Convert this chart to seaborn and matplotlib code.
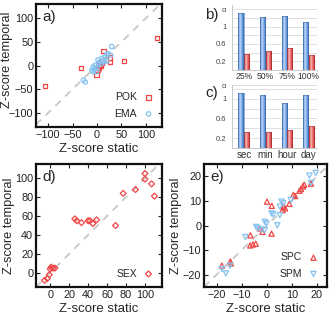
import numpy as np
import pandas as pd
import matplotlib
matplotlib.use("Agg")
import matplotlib.pyplot as plt
import seaborn as sns
from matplotlib.colors import to_rgb

sns.set_theme(style="ticks")
plt.rcParams['font.family'] = ['Liberation Sans', 'DejaVu Sans']

# ---------------- data ----------------
pok_static = [-107, -33, 123, 55, 13, 26, 26, -1, 3, 5, 9, 1, -2, 7, 18]
pok_temporal = [-43, -5, 58, 10, 31, 17, 8, -19, -4, 2, 6, -10, -12, -1, 12]
ema_static = [30, -28, -24, 10, 13, 16, 20, 23, 6, 3, -4, -8, -4, -8, -1, -11, 28, 20, 15, 0, 2, -6, 8]
ema_temporal = [40, -31, -35, 15, 11, 18, 23, 25, 8, 4, 1, -3, -6, -13, -13, -10, 22, 10, 8, -5, 12, -8, 3]

sex_static = [-6, -3, -1, 0, 1, 3, 5, 26, 28, 33, 40, 42, 45, 49, 69, 77, 90, 100, 100, 107, 110]
sex_temporal = [-8, -6, -2, 4, 6, 5, 5, 57, 55, 53, 55, 55, 52, 56, 50, 84, 88, 105, 99, 94, 81]

spc_static = [-17.9, -14.5, -14.3, -6.6, -5.5, -4.4, -6.5, -2.8, -1.7, 1.9, 0.1, 2.0, 6.6, 7.3, 6.3, 9.0,
              10.6, 11.3, 13.0, 13.6, 14.4, 14.9, 17.6]
spc_temporal = [-16.3, -14.6, -15.4, -8.1, -7.7, -7.4, -4.0, -1.2, -2.6, -3.3, 9.7, 8.0, 7.7, 7.0, 6.3, 8.8,
                12.5, 12.0, 14.1, 14.8, 15.9, 16.6, 17.0]
spm_static = [-17.9, -16.3, -14.6, -8.5, -4.2, -3.5, -2.1, -0.8, -0.8, -0.1, 4.2, 1.9, 2.6, 5.2, 5.9, 6.6,
              5.2, 9.6, 17.6, 17.0, 19.5]
spm_temporal = [-17.7, -19.5, -16.3, -4.7, -0.6, -1.2, -1.6, -1.9, 1.5, 0.8, 0.1, 4.9, 4.5, 4.2, 9.7, 9.0,
                7.7, 10.4, 17.3, 20.3, 21.4]

b_categories = ['25%', '50%', '75%', '100%']
b_blue = [1.31, 1.22, 1.24, 1.10]
b_red = [0.36, 0.43, 0.51, 0.34]
c_categories = ['sec', 'min', 'hour', 'day']
c_blue = [1.11, 1.08, 0.91, 1.07]
c_red = [0.33, 0.33, 0.36, 0.44]

RED = '#f04646'
BLUE = '#86c2ee'
BAR_BLUE = '#5a94e4'
BAR_RED = '#e84848'

W, H = 332, 318
fig = plt.figure(figsize=(W / 100, H / 100), dpi=100)


def px_axes(l, r, t, b):
    return fig.add_axes([l / W, 1 - b / H, (r - l) / W, (b - t) / H])


def style_scatter(ax, xlim, ylim, xticks, yticks, letter, ylab_right_px, ylab_y=0.5):
    ax.set_xlim(*xlim)
    ax.set_ylim(*ylim)
    ax.set_xticks(xticks)
    ax.set_yticks(yticks)
    ax.axline((0, 0), slope=1, color='#c8c8c8', lw=1.3, ls=(0, (4, 3.5)), zorder=0)
    ax.tick_params(direction='in', top=True, right=True, length=3, width=0.8,
                   labelsize=7.8, pad=2, colors='#222222')
    for s in ax.spines.values():
        s.set_linewidth(1.6)
        s.set_color('#111111')
    ax.set_xlabel('Z-score static', fontsize=9.5, labelpad=2)
    ax.set_ylabel('Z-score temporal', fontsize=9.2)
    bb = ax.get_position()
    ax.yaxis.set_label_coords((ylab_right_px / W - bb.x0) / bb.width, ylab_y)
    ax.text(0.05, 0.95, letter, transform=ax.transAxes, fontsize=11, va='top', ha='left')
    ax.legend(loc='lower right', markerfirst=False, frameon=False, fontsize=7.5,
              handletextpad=0.6, borderaxespad=0.4, labelspacing=0.6, handlelength=1.0)


def pts(ax, x, y, marker, color, label, s=10):
    sns.scatterplot(x=x, y=y, marker=marker, color=color, facecolors='none', edgecolor=color,
                    linewidth=0.9, s=s, label=label, ax=ax)


# ---- panel a ----
ax_a = px_axes(36, 162, 4, 127)
pts(ax_a, pok_static, pok_temporal, 's', RED, 'POK')
pts(ax_a, ema_static, ema_temporal, 'o', BLUE, 'EMA')
style_scatter(ax_a, (-125, 133), (-130, 130), [-100, -50, 0, 50, 100], [-100, -50, 0, 50, 100], 'a)',
              13.5, 0.545)

# ---- panel d ----
ax_d = px_axes(36, 162, 164, 287)
pts(ax_d, sex_static, sex_temporal, 'D', RED, 'SEX', s=9)
style_scatter(ax_d, (-15, 118), (-15, 115), [0, 20, 40, 60, 80, 100], [0, 20, 40, 60, 80, 100], 'd)', 15)

# ---- panel e ----
ax_e = px_axes(204, 327, 164, 287)
pts(ax_e, spc_static, spc_temporal, '^', RED, 'SPC', s=14)
pts(ax_e, spm_static, spm_temporal, 'v', BLUE, 'SPM', s=14)
style_scatter(ax_e, (-25, 24), (-25, 25), [-20, -10, 0, 10, 20], [-20, -10, 0, 10, 20], 'e)', 182)


# ---- bar panels ----
def shade(c, f):
    r = np.array(to_rgb(c))
    if f >= 0:
        return r + (1 - r) * f
    return r * (1 + f)


def bar_panel(ax, cats, blue, red, ylim, yticks, yticklabels, xlabsize, letter, letter_xy):
    df = pd.DataFrame({'cat': cats * 2, 'val': blue + red,
                       'series': ['blue'] * len(cats) + ['red'] * len(cats)})
    sns.barplot(data=df, x='cat', y='val', hue='series', palette=[BAR_BLUE, BAR_RED],
                width=0.52, gap=0.08, errorbar=None, legend=False, ax=ax, zorder=3)
    xl = (-0.55, len(cats) - 0.6)
    for i, p in enumerate(list(ax.patches)):
        x0, y0 = p.get_x(), p.get_y()
        w, h = p.get_width(), p.get_height()
        base = BAR_BLUE if i < len(cats) else BAR_RED
        prof = np.concatenate([np.linspace(-0.2, 0.6, 7), np.linspace(0.6, -0.3, 13)])
        img = np.array([[list(shade(base, f)) + [1.0] for f in prof]])
        im = ax.imshow(img, extent=[x0, x0 + w, y0, y0 + h], aspect='auto', zorder=4,
                       interpolation='bilinear')
        im.set_clip_path(p)
        p.set_edgecolor(shade(base, -0.3))
        p.set_linewidth(0.4)
        p.set_zorder(5)
        p.set_facecolor('none')
    ax.set_xlim(*xl)
    ax.set_ylim(*ylim)
    ax.set_yticks(yticks)
    ax.set_yticklabels(yticklabels)
    ax.set_yticks(np.arange(0, ylim[1] + 0.01, 0.2), minor=True)
    ax.grid(axis='y', which='both', color='#d9d9d9', lw=0.6, zorder=0)
    ax.set_axisbelow(True)
    ax.set_xlabel('')
    ax.set_ylabel('')
    for s in ['top', 'right']:
        ax.spines[s].set_visible(False)
    for s in ['left', 'bottom']:
        ax.spines[s].set_color('#c8c8c8')
        ax.spines[s].set_linewidth(0.7)
    ax.tick_params(axis='y', which='both', length=0, labelsize=5.5, pad=4, colors='#444444')
    ax.tick_params(axis='x', length=0, labelsize=xlabsize, pad=1.5, colors='#333333')
    fig.text(letter_xy[0] / W, 1 - letter_xy[1] / H, letter, fontsize=11, ha='center', va='center')


ax_b = px_axes(232, 317, 5, 70)
bar_panel(ax_b, b_categories, b_blue, b_red, (0, 1.5), [0.2, 0.6, 1.0, 1.4],
          ['0.2', '0.6', '1', 'α'], 6.2, 'b)', (212, 15))

ax_c = px_axes(232, 317, 85, 148)
bar_panel(ax_c, c_categories, c_blue, c_red, (0, 1.28), [0.2, 0.6, 1.0, 1.28],
          ['0.2', '0.6', '1', 'α'], 7, 'c)', (212, 93))

fig.savefig('out.png', dpi=100)
